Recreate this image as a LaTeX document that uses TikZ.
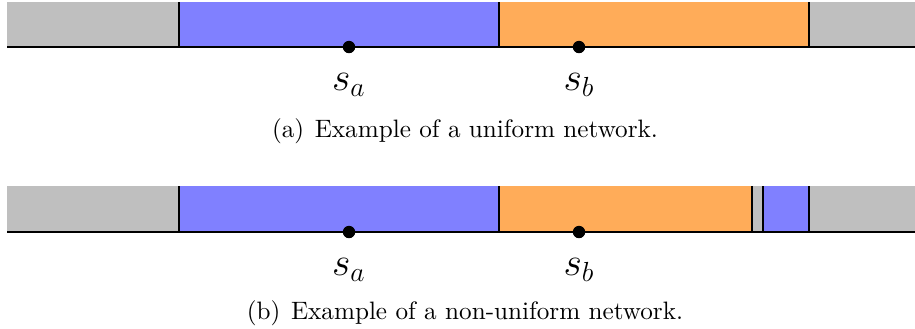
\documentclass[tikz,border=0pt]{standalone}
\usepackage{xcolor}
\definecolor{segGray}{RGB}{191,191,191}
\definecolor{segBlue}{RGB}{128,128,255}
\definecolor{segOrange}{RGB}{255,172,89}
\begin{document}
\begin{tikzpicture}[x=0.435pt,y=-0.435pt,
  edge/.style={line width=0.9pt,black},
  dot/.style={circle,fill=black,inner sep=0pt,minimum size=5.4pt},
  lbl/.style={font=\LARGE},
  captext/.style={font=\fontsize{10.95}{13}\selectfont}]
\useasboundingbox (0,0) rectangle (915,328);
% ---------- (a) ----------
\fill[segGray] (7,2) rectangle (179,47);
\fill[segBlue] (179,2) rectangle (499,47);
\fill[segOrange] (499,2) rectangle (809,47);
\fill[segGray] (809,2) rectangle (915,47);
\draw[edge] (179,2) -- (179,47);
\draw[edge] (499,2) -- (499,47);
\draw[edge] (809,2) -- (809,47);
\draw[edge] (7,47) -- (915,47);
\node[dot] (da) at (349,47) {};
\node[dot] (db) at (579,47) {};
\node[lbl] (la) at (349,85) {$s_a$};
\node[lbl] (lb) at (579,85) {$s_b$};
\node[captext] (ca) at (465,131) {(a)\hspace{4.6pt}Example of a uniform network.};
% ---------- (b) ----------
\fill[segGray] (7,186) rectangle (179,232);
\fill[segBlue] (179,186) rectangle (499,232);
\fill[segOrange] (499,186) rectangle (752,232);
\fill[segGray] (752,186) rectangle (763,232);
\fill[segBlue] (763,186) rectangle (809,232);
\fill[segGray] (809,186) rectangle (915,232);
\draw[edge] (179,186) -- (179,232);
\draw[edge] (499,186) -- (499,232);
\draw[edge] (752,186) -- (752,232);
\draw[edge] (763,186) -- (763,232);
\draw[edge] (809,186) -- (809,232);
\draw[edge] (7,232) -- (915,232);
\node[dot] (dc) at (349,232) {};
\node[dot] (dd) at (579,232) {};
\node[lbl] (lc) at (349,270) {$s_a$};
\node[lbl] (ld) at (579,270) {$s_b$};
\node[captext] (cb) at (465,313) {(b)\hspace{4.6pt}Example of a non-uniform network.};
\end{tikzpicture}
\end{document}
